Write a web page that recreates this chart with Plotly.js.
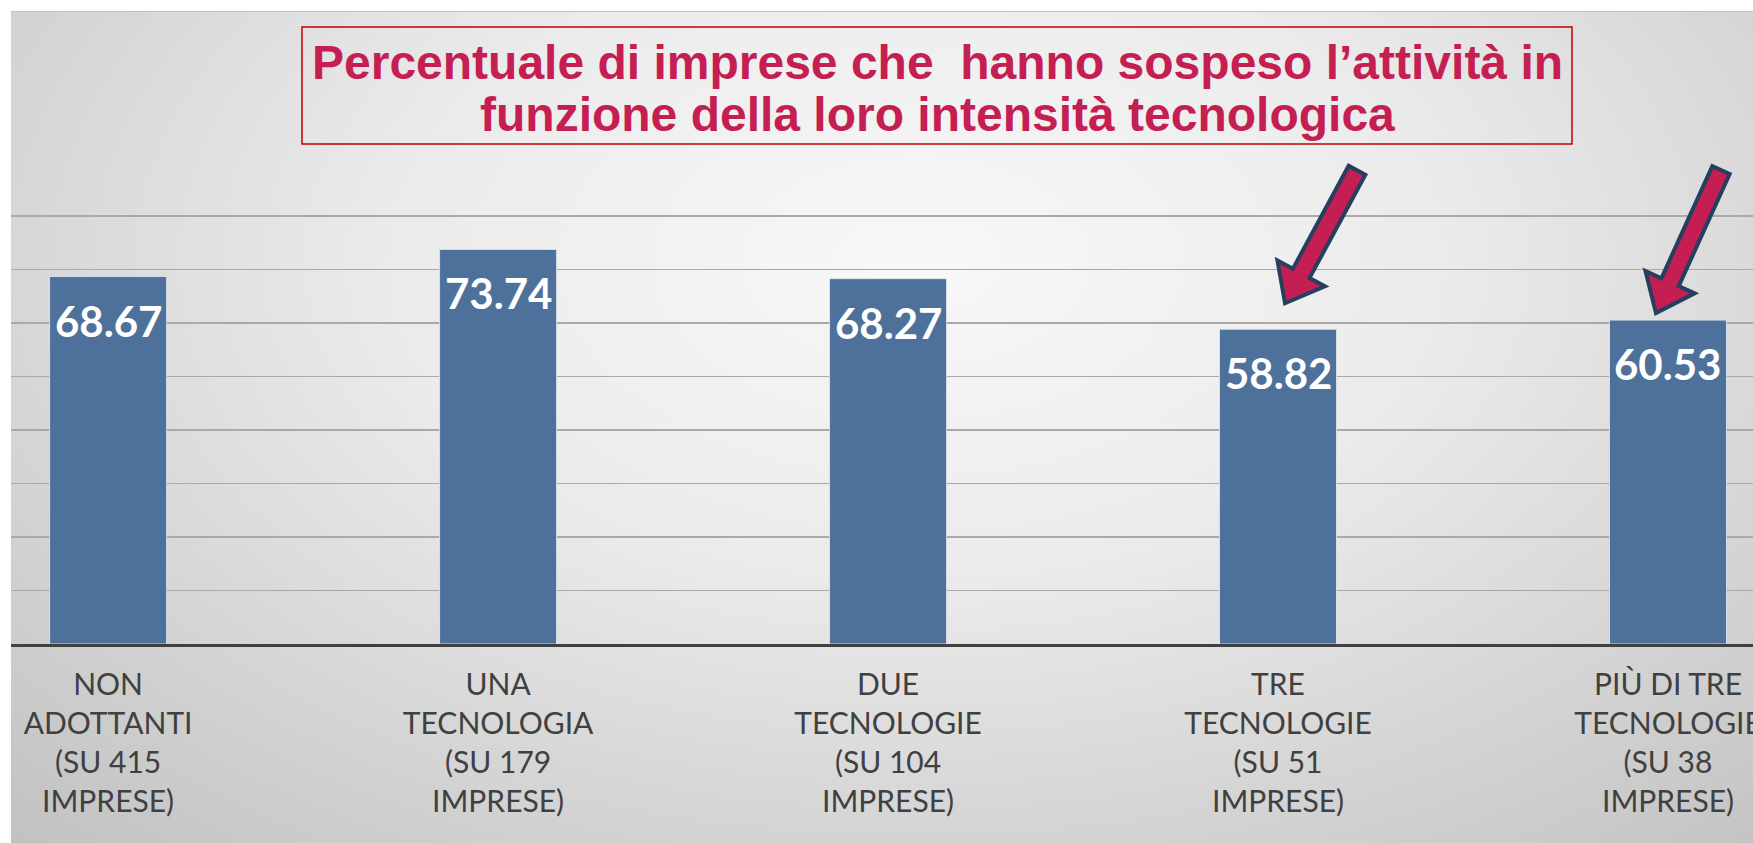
<!DOCTYPE html>
<html>
<head>
<meta charset="utf-8">
<script src="https://cdn.plot.ly/plotly-3.0.1.min.js"></script>
<style>
html, body { margin: 0; padding: 0; background: #ffffff; }
#wrap { position: relative; width: 1753px; height: 843px; overflow: hidden; }
#bg { position: absolute; left: 11px; top: 11px; right: 0; bottom: 0;
      background: radial-gradient(ellipse 75% 95% at 52% 30%, #f8f8f8 0%, #ebebeb 40%, #d6d6d6 70%, #c2c2c2 100%);
      border-top: 1px solid #c0c0c0; }
#chart { position: absolute; left: 0; top: 0; width: 1753px; height: 843px; }
</style>
</head>
<body>
<div id="wrap"><div id="bg"></div><div id="chart"></div></div>
<script>
// ---- data ----
const categories = [
  'NON<br>ADOTTANTI<br>(SU 415<br>IMPRESE)',
  'UNA<br>TECNOLOGIA<br>(SU 179<br>IMPRESE)',
  'DUE<br>TECNOLOGIE<br>(SU 104<br>IMPRESE)',
  'TRE<br>TECNOLOGIE<br>(SU 51<br>IMPRESE)',
  'PIÙ DI TRE<br>TECNOLOGIE<br>(SU 38<br>IMPRESE)'
];
const values = [68.67, 73.74, 68.27, 58.82, 60.53];
const valueLabels = ['68.67', '73.74', '68.27', '58.82', '60.53'];
const gridValues = [10, 20, 30, 40, 50, 60, 70, 80];
const titleLines = [
  'Percentuale di imprese che\u00a0 hanno sospeso l\u2019attività in',
  'funzione della loro intensità tecnologica'
];
const arrowTargets = [3, 4]; // bars pointed at by arrows

// ---- layout geometry ----
const L = 11, T = 11, W = 1742, H = 633;
const xr = [-0.249, 4.218];
const yr = [0, 118.3];
const xpx = i => L + (i - xr[0]) / (xr[1] - xr[0]) * W;
const ypx = v => T + H - (v - yr[0]) / (yr[1] - yr[0]) * H;
const px2paperX = px => (px - L) / W;
const px2paperY = py => (T + H - py) / H;

function arrowPath(tail, tip, sh, hh, hl) {
  const dx = tip[0] - tail[0], dy = tip[1] - tail[1];
  const len = Math.hypot(dx, dy);
  const u = [dx / len, dy / len], n = [-u[1], u[0]];
  const base = [tip[0] - u[0] * hl, tip[1] - u[1] * hl];
  const pts = [
    [tail[0] + n[0] * sh, tail[1] + n[1] * sh],
    [base[0] + n[0] * sh, base[1] + n[1] * sh],
    [base[0] + n[0] * hh, base[1] + n[1] * hh],
    tip,
    [base[0] - n[0] * hh, base[1] - n[1] * hh],
    [base[0] - n[0] * sh, base[1] - n[1] * sh],
    [tail[0] - n[0] * sh, tail[1] - n[1] * sh]
  ];
  return 'M' + pts.map(p => px2paperX(p[0]).toFixed(5) + ',' + px2paperY(p[1]).toFixed(5)).join(' L') + ' Z';
}

// arrow offsets relative to target bar top (pixels)
const arrowStyle = [
  { tipOff: [7, -26], tailRel: [72, -133] },
  { tipOff: [-12, -7], tailRel: [65, -143] }
];

const shapes = [];
// title box
shapes.push({
  type: 'rect', xref: 'paper', yref: 'paper',
  x0: px2paperX(302), x1: px2paperX(1572), y0: px2paperY(144), y1: px2paperY(27),
  line: { color: '#C00000', width: 1.5 }, fillcolor: 'rgba(0,0,0,0)', layer: 'above'
});
arrowTargets.forEach((idx, k) => {
  const st = arrowStyle[k];
  const tip = [xpx(idx) + st.tipOff[0], ypx(values[idx]) + st.tipOff[1]];
  const tail = [tip[0] + st.tailRel[0], tip[1] + st.tailRel[1]];
  shapes.push({
    type: 'path', xref: 'paper', yref: 'paper',
    path: arrowPath(tail, tip, 9.5, 27, 34),
    fillcolor: '#C41E52', line: { color: '#243F60', width: 4 }, layer: 'above'
  });
});

const annotations = values.map((v, i) => ({
  x: categories[i], y: v, xref: 'x', yref: 'y',
  text: valueLabels[i], showarrow: false,
  yanchor: 'middle', xanchor: 'center', yshift: -44,
  font: { family: 'Lato, "Open Sans", sans-serif', size: 42, color: '#ffffff', weight: 'bold' }
}));
const titleLineY = [62, 114];
titleLines.forEach((line, k) => {
  annotations.push({
    xref: 'paper', yref: 'paper', x: px2paperX(937), y: px2paperY(titleLineY[k]),
    xanchor: 'center', yanchor: 'middle', showarrow: false, align: 'center',
    text: '<b>' + line + '</b>',
    font: { family: '"Liberation Sans", Arial, sans-serif', size: 48, color: '#C41E52' }
  });
});

const trace = {
  type: 'bar', x: categories, y: values, width: 0.3,
  marker: { color: '#4E719C', line: { color: 'rgba(225,232,242,0.85)', width: 1 } },
  hoverinfo: 'skip'
};

const layout = {
  width: 1753, height: 843,
  margin: { l: L, r: 1753 - L - W, t: T, b: 843 - T - H, pad: 0 },
  paper_bgcolor: 'rgba(0,0,0,0)', plot_bgcolor: 'rgba(0,0,0,0)',
  showlegend: false,
  bargap: 0,
  xaxis: {
    type: 'category', range: xr, showgrid: false, zeroline: false,
    showline: true, linecolor: '#404040', linewidth: 3,
    ticks: '', ticklabelstandoff: 12,
    tickfont: { family: 'Lato, "Open Sans", sans-serif', size: 30, color: '#404040' },
    fixedrange: true
  },
  yaxis: {
    range: yr, tickvals: gridValues, showticklabels: false, ticks: '',
    showgrid: true, gridcolor: '#a9a9a9', gridwidth: 1.5,
    zeroline: false, showline: false, fixedrange: true
  },
  shapes: shapes,
  annotations: annotations
};

Plotly.newPlot('chart', [trace], layout, { staticPlot: true, displayModeBar: false });
</script>
</body>
</html>
